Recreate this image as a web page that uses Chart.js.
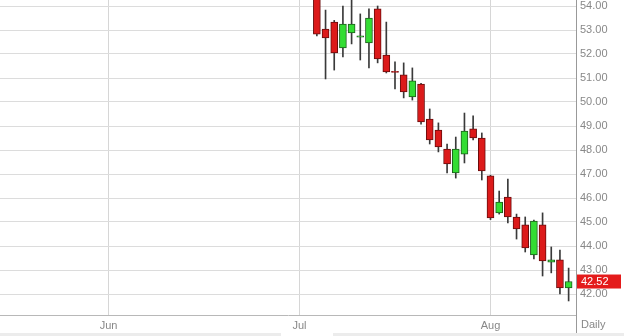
<!DOCTYPE html>
<html lang="en">
  <head>
    <meta charset="UTF-8" />
    <title>Daily candlesticks</title>
    <script src="https://cdn.jsdelivr.net/npm/chart.js@4"></script>
    <style>
      body { margin: 0; background: #fff; }
    </style>
  </head>
  <body>
    <canvas id="myChart" width="624" height="336"></canvas>

    <script>
      // sessions visible in the picture (Jul 1 = trading day 0, Jul 6 = 2)
      const days = [
        'Jul 6', 'Jul 7', 'Jul 8', 'Jul 9', 'Jul 10', 'Jul 13', 'Jul 14', 'Jul 15', 'Jul 16', 'Jul 17',
        'Jul 20', 'Jul 21', 'Jul 22', 'Jul 23', 'Jul 24', 'Jul 27', 'Jul 28', 'Jul 29', 'Jul 30', 'Jul 31',
        'Aug 3', 'Aug 4', 'Aug 5', 'Aug 6', 'Aug 7', 'Aug 10', 'Aug 11', 'Aug 12', 'Aug 13', 'Aug 14'
      ];
      const firstDay = 2;
      const open  = [54.90, 53.04, 53.33, 52.25, 52.88, 52.70, 52.46, 53.88, 51.96, 51.28,
                     51.13, 50.21, 50.75, 49.29, 48.83, 48.04, 47.04, 47.83, 48.88, 48.50,
                     46.92, 45.38, 46.04, 45.21, 44.88, 43.63, 44.88, 43.33, 43.42, 42.25];
      const high  = [55.20, 53.83, 53.40, 54.00, 54.50, 53.67, 53.88, 54.00, 53.33, 51.67,
                     51.63, 51.42, 50.78, 49.71, 49.13, 48.25, 48.54, 49.54, 49.42, 48.71,
                     46.95, 46.29, 46.79, 45.33, 45.21, 45.08, 45.38, 43.96, 43.83, 43.08];
      const low   = [52.75, 50.96, 51.33, 51.88, 52.42, 51.75, 51.42, 51.63, 51.21, 50.54,
                     50.17, 50.08, 49.08, 48.25, 47.92, 47.04, 46.83, 47.46, 48.42, 46.75,
                     45.10, 45.33, 44.96, 44.29, 43.75, 43.46, 42.75, 42.88, 42.00, 41.71];
      const close = [52.83, 52.67, 52.04, 53.25, 53.25, 52.76, 53.50, 51.79, 51.25, 51.23,
                     50.42, 50.88, 49.17, 48.42, 48.13, 47.42, 48.04, 48.79, 48.50, 47.13,
                     45.17, 45.83, 45.21, 44.71, 43.92, 45.04, 43.38, 43.42, 42.25, 42.52];

      const months = ['Jun', 'Jul', 'Aug'];
      const monthStart = [-22, 0, 22];
      const priceTicks = [42, 43, 44, 45, 46, 47, 48, 49, 50, 51, 52, 53, 54];

      const up = close.map((c, i) => c >= open[i]);
      const bodies = days.map((d, i) => ({ x: firstDay + i, y: [open[i], close[i]] }));
      const wicks = days.map((d, i) => ({ x: firstDay + i, y: [low[i], high[i]] }));

      const labelFont = { family: 'Liberation Sans', size: 11 };

      const decor = {
        id: 'decor',
        afterDraw(chart) {
          const { ctx, chartArea: a, scales } = chart;
          ctx.save();
          ctx.strokeStyle = '#999';
          ctx.lineWidth = 1;
          ctx.beginPath();
          ctx.moveTo(a.right + 0.5, a.bottom);
          ctx.lineTo(a.right + 0.5, chart.height);
          ctx.stroke();

          ctx.font = '11px "Liberation Sans"';
          ctx.textBaseline = 'middle';
          ctx.fillStyle = '#888';
          ctx.fillText('Daily', a.right + 5, a.bottom + 10);

          // last price tag
          const last = close[close.length - 1];
          const py = scales.y.getPixelForValue(last);
          ctx.fillStyle = '#e41b1b';
          ctx.fillRect(a.right + 1, py - 7, 44, 14);
          ctx.fillStyle = '#fff';
          ctx.fillText(last.toFixed(2), a.right + 5, py);

          // scroller strip at the bottom
          ctx.fillStyle = '#ececec';
          ctx.fillRect(0, chart.height - 3, chart.width, 3);
          ctx.fillStyle = '#fff';
          ctx.fillRect(281, chart.height - 3, 52, 3);
          ctx.restore();
        }
      };

      const ctx = document.getElementById('myChart').getContext('2d');
      const myChart = new Chart(ctx, {
        type: 'bar',
        data: {
          datasets: [
            {
              label: 'body',
              data: bodies,
              order: 0,
              grouped: false,
              barThickness: 7,
              backgroundColor: up.map(u => (u ? '#33dd33' : '#dc1a1a')),
              borderColor: up.map(u => (u ? '#1d5e1d' : '#6a0c0c')),
              borderWidth: 1,
              borderSkipped: false
            },
            {
              label: 'wick',
              data: wicks,
              order: 1,
              grouped: false,
              barThickness: 1,
              backgroundColor: '#3a3a3a',
              borderWidth: 0
            }
          ]
        },
        options: {
          responsive: false,
          animation: false,
          devicePixelRatio: 1,
          layout: { padding: 0 },
          plugins: { legend: { display: false }, tooltip: { enabled: false } },
          scales: {
            x: {
              type: 'linear',
              offset: false,
              min: -34.5,
              max: 31.85,
              afterBuildTicks: s => { s.ticks = monthStart.map(v => ({ value: v })); },
              afterFit: s => { s.height = 21; s.paddingLeft = 0; s.paddingRight = 0; },
              ticks: {
                autoSkip: false,
                maxRotation: 0,
                padding: 4,
                color: '#888',
                font: labelFont,
                callback: v => months[monthStart.indexOf(v)]
              },
              grid: { offset: false, color: '#d6d6d6', drawTicks: false },
              border: { display: true, color: '#b8b8b8' }
            },
            y: {
              position: 'right',
              min: 41.125,
              max: 54.25,
              afterBuildTicks: s => { s.ticks = priceTicks.map(v => ({ value: v })); },
              afterFit: s => { s.width = 48; s.paddingTop = 0; s.paddingBottom = 0; },
              ticks: {
                padding: 4,
                color: '#888',
                font: labelFont,
                callback: v => v.toFixed(2)
              },
              grid: { color: '#dcdcdc', drawTicks: false },
              border: { display: true, color: '#999' }
            }
          }
        },
        plugins: [decor]
      });
    </script>
  </body>
</html>
